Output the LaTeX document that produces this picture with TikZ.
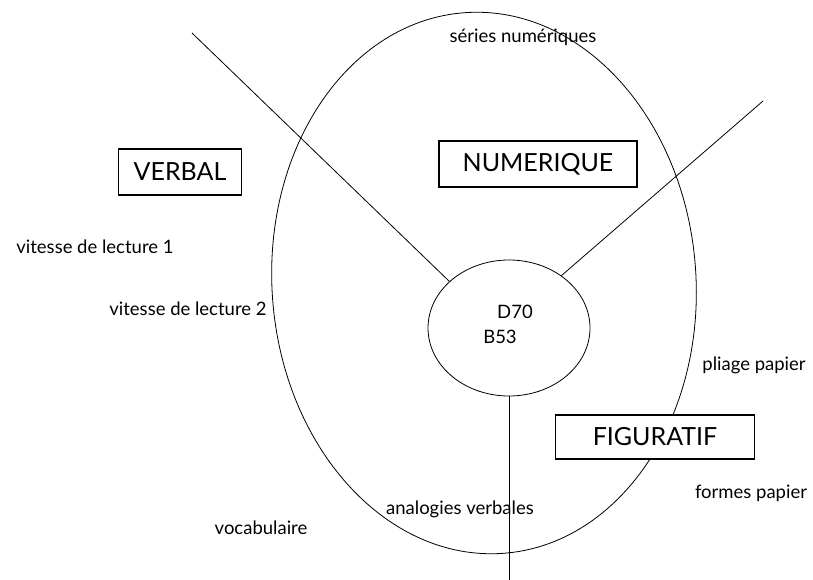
\documentclass[tikz,border=0pt]{standalone}
\usepackage{fontspec}
\setmainfont{Lato}
\usepackage{tikz}
\usetikzlibrary{shapes.geometric, positioning}

\begin{document}
\begin{tikzpicture}[
    x=1pt, y=-1pt,
    zone/.style = {ellipse, draw=black, line width=0.8pt, inner sep=0pt},
    facteur/.style = {rectangle, draw=black, line width=1.1pt, fill=white,
                      inner sep=0pt, font=\fontsize{25}{28}\selectfont},
    epreuve/.style = {inner sep=0pt, font=\fontsize{18.5}{20}\selectfont},
    trait/.style = {line width=0.8pt}
]
\useasboundingbox (0,0) rectangle (813,580);

% Domaine general
\node[zone, minimum width=424pt, minimum height=542pt, rotate=4] (general) at (484,283) {};

% Noyau central
\node[zone, minimum width=162pt, minimum height=136pt] (noyau) at (509,328) {};
\node[epreuve] (d70) at (515,312) {D70};
\node[epreuve] (b53) at (500,337) {B53};

% Branches
\coordinate (hautgauche) at (192,33);
\coordinate (hautdroite) at (763,101);
\coordinate (bas) at (509,580);
\draw[trait] (hautgauche) -- (noyau.142);
\draw[trait] (hautdroite) -- (noyau.45);
\draw[trait] (noyau.south) -- (bas);

% Facteurs
\node[facteur, minimum width=123pt, minimum height=46pt] (verbal) at (180,172) {VERBAL};
\node[facteur, minimum width=198pt, minimum height=46pt] (numerique) at (538,164) {NUMERIQUE};
\node[facteur, minimum width=199pt, minimum height=44pt] (figuratif) at (655,437) {FIGURATIF};

% Epreuves
\node[epreuve] (series) at (523,37) {séries numériques};
\node[epreuve] (lecture1) at (95,247) {vitesse de lecture 1};
\node[epreuve] (lecture2) at (188,309) {vitesse de lecture 2};
\node[epreuve] (pliage) at (754,365) {pliage papier};
\node[epreuve] (formes) at (751,493) {formes papier};
\node[epreuve] (analogies) at (460,509) {analogies verbales};
\node[epreuve] (vocabulaire) at (261,528) {vocabulaire};

\end{tikzpicture}
\end{document}
